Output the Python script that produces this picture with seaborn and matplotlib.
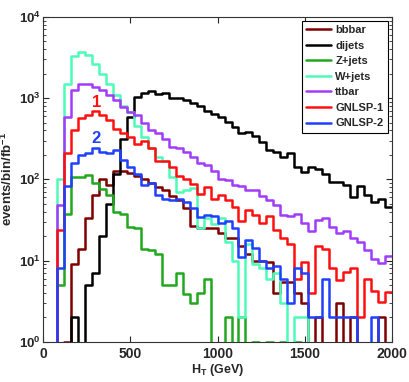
import numpy as np
import pandas as pd
import matplotlib
matplotlib.use("Agg")
import matplotlib.pyplot as plt
import seaborn as sns

# 40 GeV bins from 0 to 2000 GeV
bin_edges = np.arange(0, 2040, 40)

samples = ["bbbar", "dijets", "Z+jets", "W+jets", "ttbar", "GNLSP-1", "GNLSP-2"]
colors = ["#7f0000", "#000000", "#22a81e", "#4dfcb8", "#a03cfa", "#ff1010", "#2040ff"]

# events/bin/fb^-1 (0 = empty bin)
bbbar = [0, 0, 0, 1, 9.2, 14, 33, 64, 100, 85,
         125, 125, 120, 110, 100, 90, 80, 75, 62, 55,
         44, 27, 25, 25, 25, 22, 19, 19, 15, 12,
         10, 10, 9.6, 4, 5.5, 5.5, 4, 3, 0, 2,
         0, 0, 3, 0, 2, 0, 0, 0, 2, 0]
dijets = [0, 0, 0, 0, 2, 0, 5, 7, 20, 50,
          118, 318, 590, 1040, 1170, 1220, 1110, 1160, 1010, 1000,
          960, 880, 800, 700, 640, 580, 510, 440, 375, 385,
          340, 290, 230, 220, 190, 208, 142, 123, 142, 133,
          118, 93, 93, 85, 61, 82, 64, 53, 57, 46]
zjets = [0, 0, 5, 38, 107, 107, 112, 89, 77, 64,
         40, 38, 26, 25, 14, 13.4, 12, 5, 5, 7,
         3.9, 3, 4, 6, 0, 0, 2, 0, 2, 0,
         1, 0, 1, 0, 1, 0, 1, 0, 0, 0,
         0, 0, 0, 0, 0, 0, 0, 0, 0, 0]
wjets = [0, 0, 100, 1500, 3300, 3700, 3350, 2650, 2000, 1500,
         1090, 790, 680, 450, 335, 245, 190, 170, 107, 70,
         73, 79, 25, 33, 28, 33, 17, 10, 2, 16,
         9, 8, 6, 7, 3, 0, 2, 2, 0, 0,
         0, 0, 0, 0, 0, 0, 0, 0, 0, 0]
ttbar = [0, 0, 48, 590, 1250, 1500, 1500, 1375, 1250, 1090,
         940, 780, 680, 620, 490, 410, 370, 310, 250, 240,
         218, 186, 157, 150, 125, 102, 98, 85, 82, 73,
         73, 62, 55, 48, 36, 35, 38, 29, 23, 32,
         33, 26, 22, 23, 19, 17, 13.5, 10.5, 9.3, 11.5]
gnlsp1 = [0, 0, 24, 208, 404, 563, 620, 700, 620, 535,
          420, 370, 335, 275, 300, 240, 170, 170, 140, 110,
          100, 88, 66, 80, 58, 64, 55, 46, 31, 42,
          36, 29, 35, 24, 19, 16, 6, 9.6, 4, 15,
          14, 8, 5.8, 7.2, 8, 2, 6, 4.2, 3.1, 4.1]
gnlsp2 = [0, 0, 8, 83, 157, 198, 208, 240, 218, 208,
          228, 172, 142, 115, 85, 89, 64, 58, 55, 58,
          52, 44, 34, 36, 35, 29, 31, 25, 11, 18,
          14.5, 10, 8, 8.7, 6, 3, 8, 7, 2, 2,
          6, 2, 2, 2, 2, 0, 0, 2, 0, 0]

series = [bbbar, dijets, zjets, wjets, ttbar, gnlsp1, gnlsp2]

# long table, last value repeated so the last bin closes at 2000
rows = []
for name, vals in zip(samples, series):
    vals = np.append(vals, vals[-1]).astype(float)
    vals[vals <= 0] = 1e-3  # empty bins fall below the axis
    for x, v in zip(bin_edges, vals):
        rows.append({"HT": x, "events": v, "sample": name})
df = pd.DataFrame(rows)

sns.set_style("ticks")
plt.rcParams["font.family"] = ["Liberation Sans", "DejaVu Sans"]
plt.rcParams["font.weight"] = "bold"
plt.rcParams["axes.labelweight"] = "bold"
plt.rcParams["mathtext.fontset"] = "custom"
plt.rcParams["mathtext.rm"] = "Liberation Sans:bold"
plt.rcParams["mathtext.it"] = "Liberation Sans:bold"
plt.rcParams["mathtext.bf"] = "Liberation Sans:bold"

fig = plt.figure(figsize=(4.09, 3.82), dpi=100)
ax = fig.add_axes([0.106, 0.105, 0.852, 0.851])

sns.lineplot(data=df, x="HT", y="events", hue="sample", hue_order=samples,
             palette=colors, drawstyle="steps-post", lw=1.8, ax=ax, sort=True)

ax.set_yscale("log")
ax.set_xlim(0, 2000)
ax.set_ylim(1, 1e4)
ax.set_xticks([0, 500, 1000, 1500, 2000])
ax.set_xlabel(r"H$_\mathregular{T}$ (GeV)", fontsize=9, labelpad=1)
ax.set_ylabel(r"events/bin/fb$^{-1}$", fontsize=9.5)
ax.yaxis.set_label_coords(-0.08, 0.5)
ax.tick_params(which="both", direction="in", top=True, right=True)
ax.tick_params(axis="x", labelsize=10)
ax.tick_params(axis="y", labelsize=9.5, pad=2)
ax.tick_params(which="major", length=4)
ax.tick_params(which="minor", length=2)
for s in ax.spines.values():
    s.set_linewidth(0.8)
    s.set_color("#333333")

ax.text(305, 870, "1", color="#ff1010", fontsize=12, fontweight="bold", ha="center", va="center")
ax.text(305, 318, "2", color="#2040ff", fontsize=12, fontweight="bold", ha="center", va="center")

handles, labels = ax.get_legend_handles_labels()
leg = ax.legend(handles, labels, loc="upper right", fontsize=8, frameon=True,
                fancybox=False, edgecolor="black", framealpha=1, handlelength=2.2,
                labelspacing=0.5, borderpad=0.4, handletextpad=0.4,
                borderaxespad=0.2, bbox_to_anchor=(0.995, 0.995))
leg.get_frame().set_linewidth(0.8)
for line in leg.get_lines():
    line.set_linewidth(1.8)

fig.savefig("out.png", dpi=100)
